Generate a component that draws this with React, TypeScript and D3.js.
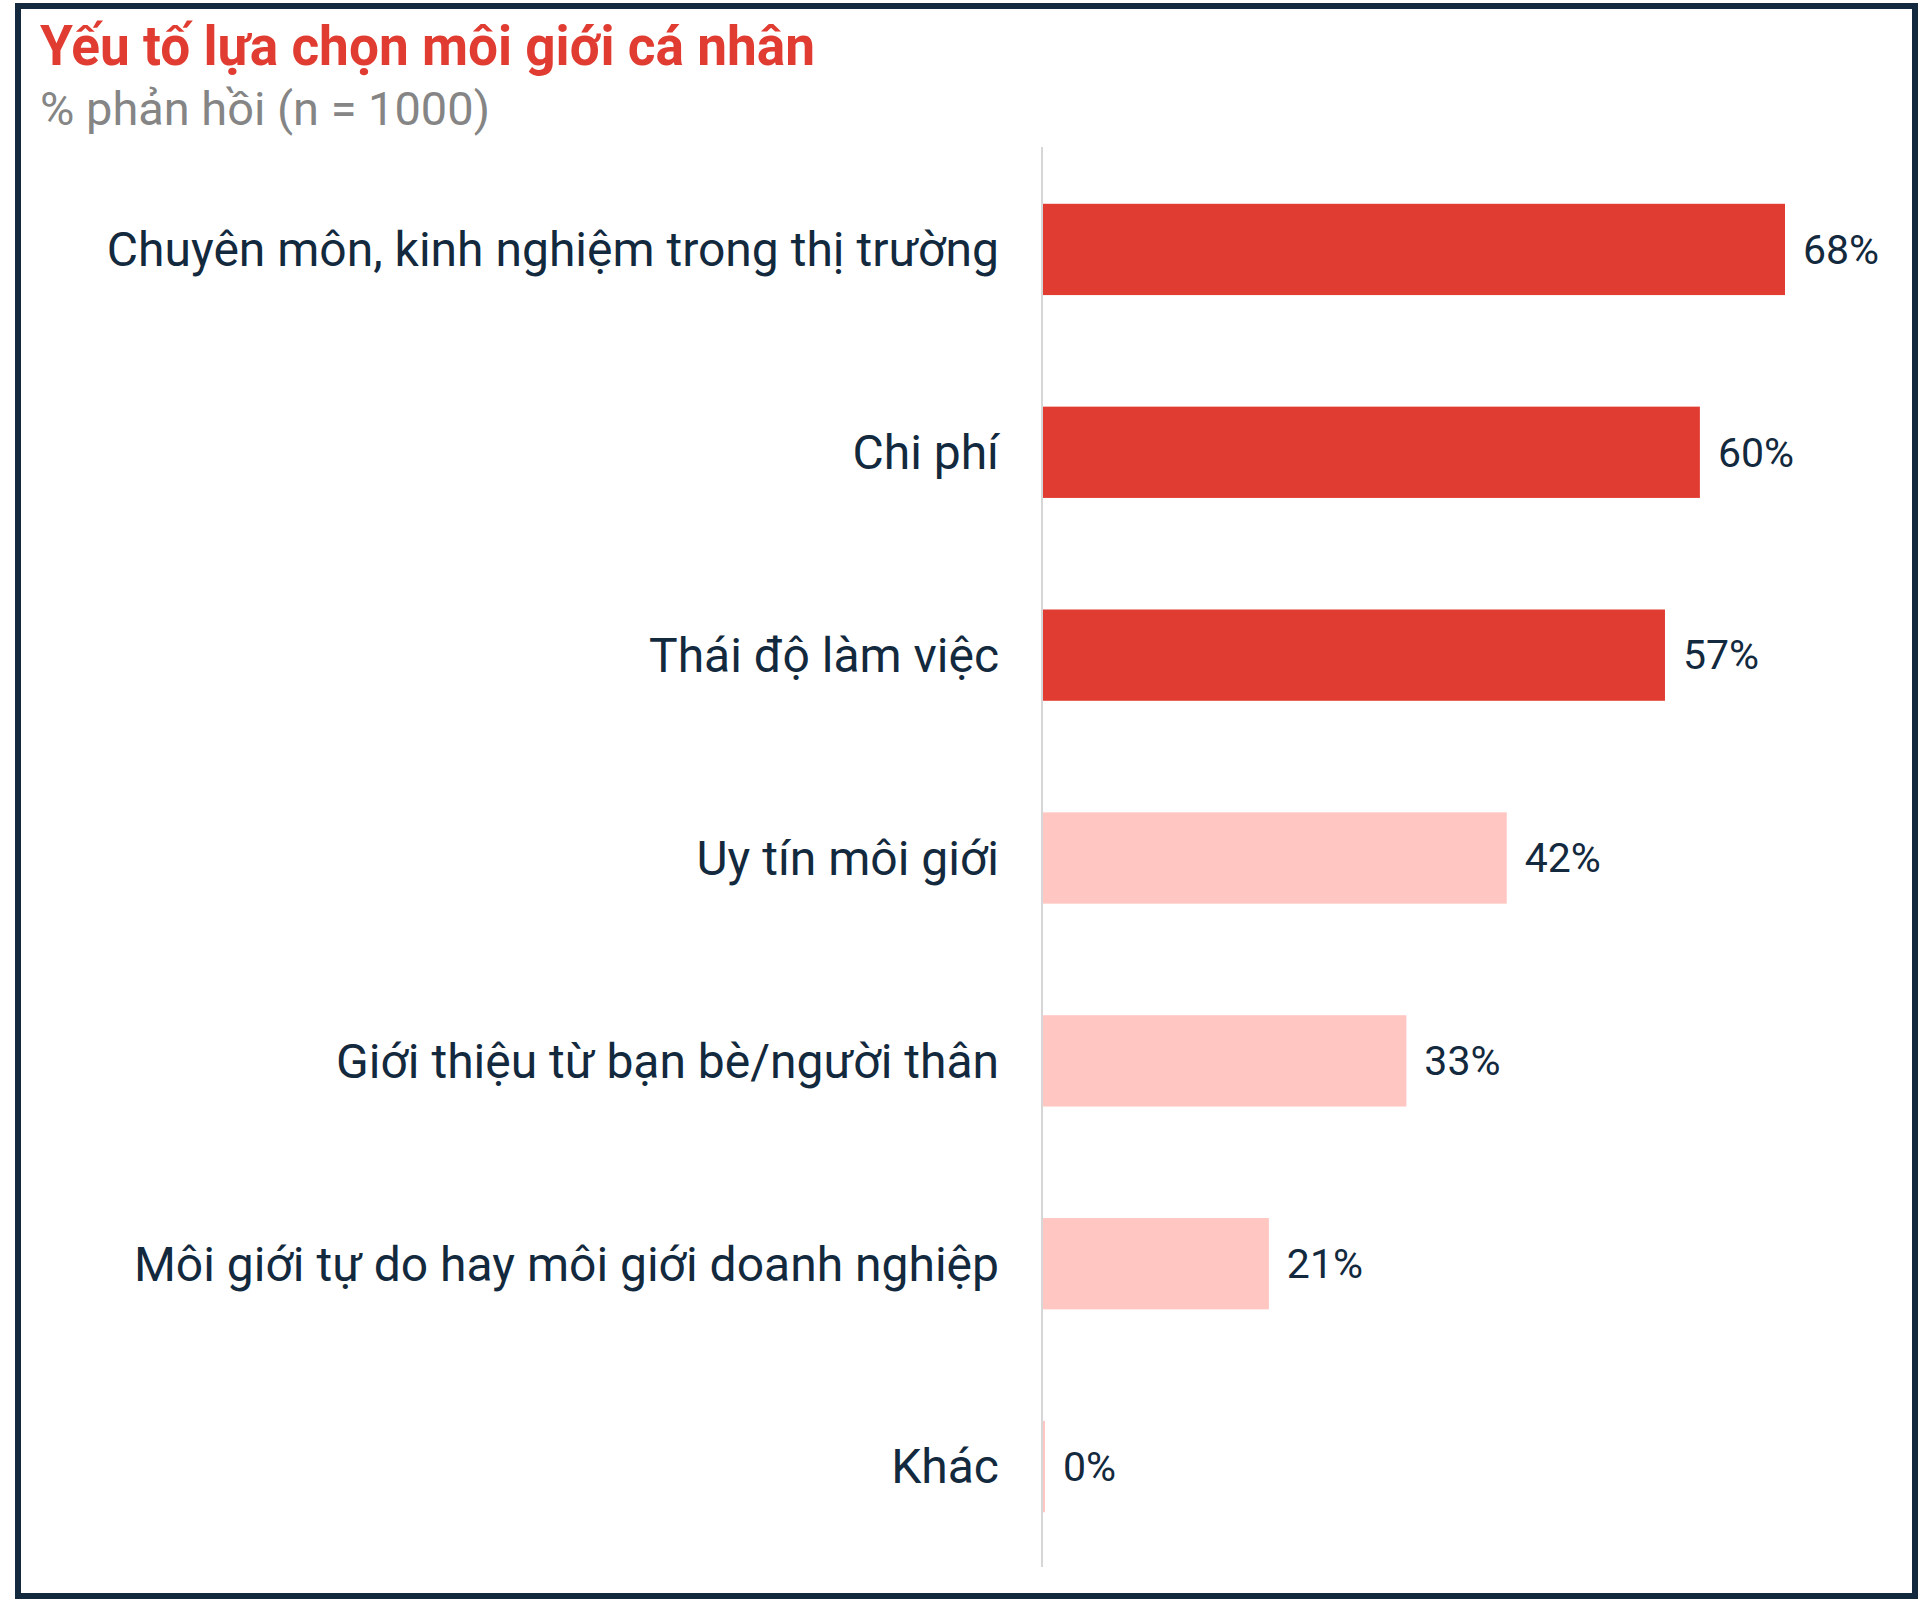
import React from "react";
import * as d3 from "d3";

const categories = [
  "Chuyên môn, kinh nghiệm trong thị trường",
  "Chi phí",
  "Thái độ làm việc",
  "Uy tín môi giới",
  "Giới thiệu từ bạn bè/người thân",
  "Môi giới tự do hay môi giới doanh nghiệp",
  "Khác",
];
const values = [68, 60.2, 57, 42.5, 33.3, 20.7, 0];
const highlighted = [true, true, true, false, false, false, false];
const valueLabels = ["68%", "60%", "57%", "42%", "33%", "21%", "0%"];
const title = "Yếu tố lựa chọn môi giới cá nhân";
const subtitle = "% phản hồi (n = 1000)";

const W = 1922;
const H = 1604;
const RED = "#E03C32";
const PINK = "#FFC6C2";
const NAVY = "#13293D";

export default function App() {
  const x = d3.scaleLinear().domain([0, 68]).range([1043, 1785]);
  const y = d3
    .scaleBand<string>()
    .domain(categories)
    .range([148, 1568])
    .paddingInner(0.55)
    .paddingOuter(0.275);

  return (
    <svg
      width={W}
      height={H}
      style={{ position: "absolute", left: 0, top: 0, background: "#fff" }}
      fontFamily="Roboto, 'Noto Sans', sans-serif"
    >
      <rect x={0} y={0} width={W} height={H} fill="#fff" />
      <rect
        x={18}
        y={6}
        width={1897}
        height={1590}
        fill="none"
        stroke={NAVY}
        strokeWidth={6}
      />
      <text
        x={40}
        y={65}
        fontSize={56}
        fontWeight={700}
        fill={RED}
        textLength={775}
        lengthAdjust="spacingAndGlyphs"
      >
        {title}
      </text>
      <text
        x={40}
        y={125}
        fontSize={46}
        fill="#858585"
        textLength={450}
        lengthAdjust="spacingAndGlyphs"
      >
        {subtitle}
      </text>
      <line
        x1={x(0) - 1}
        x2={x(0) - 1}
        y1={147}
        y2={1567}
        stroke="#d6d6d6"
        strokeWidth={2}
      />
      {categories.map((c, i) => {
        const y0 = y(c) as number;
        const bw = y.bandwidth();
        const w = Math.max(x(values[i]) - x(0), 2);
        return (
          <g key={c}>
            <rect
              x={x(0)}
              y={y0}
              width={w}
              height={bw}
              fill={highlighted[i] ? RED : PINK}
            />
            <text
              x={x(0) - 44}
              y={y0 + bw / 2}
              dy="0.35em"
              textAnchor="end"
              fontSize={48}
              fill={NAVY}
            >
              {c}
            </text>
            <text
              x={x(0) + w + 18}
              y={y0 + bw / 2}
              dy="0.35em"
              fontSize={41}
              fill={NAVY}
            >
              {valueLabels[i]}
            </text>
          </g>
        );
      })}
    </svg>
  );
}
